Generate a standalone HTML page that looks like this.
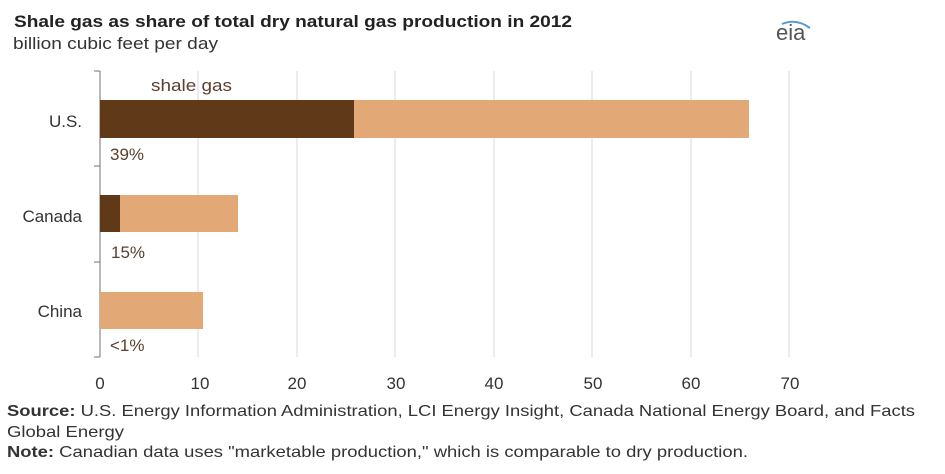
<!DOCTYPE html>
<html><head><style>
body{margin:0;background:#fff;}
svg text{font-family:"Liberation Sans",Arial,sans-serif;}
</style></head><body>
<svg width="945" height="469" viewBox="0 0 945 469" xmlns="http://www.w3.org/2000/svg">
<rect width="945" height="469" fill="#fff"/>
<text x="14" y="27" font-size="17" font-weight="bold" fill="#222" textLength="558" lengthAdjust="spacingAndGlyphs">Shale gas as share of total dry natural gas production in 2012</text>
<text x="13" y="49" font-size="17" fill="#333" textLength="205" lengthAdjust="spacingAndGlyphs">billion cubic feet per day</text>
<text x="776" y="40" font-size="22" fill="#555" font-family="Liberation Serif,serif">eia</text>
<path d="M782 24 q14 -6 28 4" stroke="#5a9bd5" stroke-width="2" fill="none"/>
<g stroke="#d9d9d9" stroke-width="1">
<line x1="198" y1="71" x2="198" y2="357"/>
<line x1="297" y1="71" x2="297" y2="357"/>
<line x1="395" y1="71" x2="395" y2="357"/>
<line x1="494" y1="71" x2="494" y2="357"/>
<line x1="592" y1="71" x2="592" y2="357"/>
<line x1="691" y1="71" x2="691" y2="357"/>
<line x1="789" y1="71" x2="789" y2="357"/>
</g>
<g stroke="#888" stroke-width="1.2">
<line x1="100" y1="71" x2="100" y2="357"/>
<line x1="94" y1="71" x2="100" y2="71"/>
<line x1="94" y1="166" x2="100" y2="166"/>
<line x1="94" y1="262" x2="100" y2="262"/>
<line x1="94" y1="357" x2="100" y2="357"/>
</g>
<rect x="100" y="100" width="254" height="38" fill="#603a18"/>
<rect x="354" y="100" width="395" height="38" fill="#e2a976"/>
<rect x="100" y="195" width="20" height="37" fill="#603a18"/>
<rect x="120" y="195" width="118" height="37" fill="#e2a976"/>
<rect x="100" y="292" width="103" height="37" fill="#e2a976"/>
<g font-size="17" fill="#333">
<text x="151" y="91" fill="#5a4030" textLength="81" lengthAdjust="spacingAndGlyphs">shale gas</text>
<text x="82" y="127" text-anchor="end">U.S.</text>
<text x="82" y="222" text-anchor="end">Canada</text>
<text x="82" y="317" text-anchor="end">China</text>
<text x="110" y="160" fill="#5a4030">39%</text>
<text x="111" y="258" fill="#5a4030">15%</text>
<text x="110" y="351" fill="#5a4030">&lt;1%</text>
</g>
<g font-size="17" fill="#333" text-anchor="middle">
<text x="100" y="389">0</text><text x="200" y="389">10</text><text x="297" y="389">20</text>
<text x="396" y="389">30</text><text x="494" y="389">40</text><text x="593" y="389">50</text>
<text x="691" y="389">60</text><text x="790" y="389">70</text>
</g>
<g font-size="16" fill="#333">
<text x="7" y="416" textLength="908" lengthAdjust="spacingAndGlyphs"><tspan font-weight="bold">Source:</tspan> U.S. Energy Information Administration, LCI Energy Insight, Canada National Energy Board, and Facts</text>
<text x="7" y="437" textLength="117" lengthAdjust="spacingAndGlyphs">Global Energy</text>
<text x="7" y="457" textLength="741" lengthAdjust="spacingAndGlyphs"><tspan font-weight="bold">Note:</tspan> Canadian data uses "marketable production," which is comparable to dry production.</text>
</g>
</svg>
</body></html>
